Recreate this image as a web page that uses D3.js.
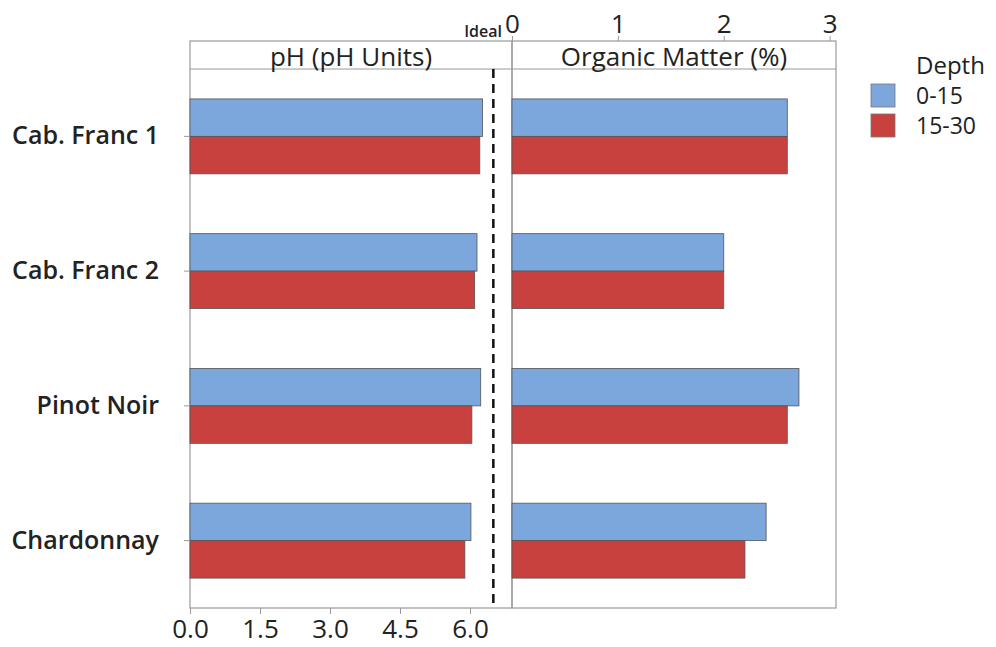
<!DOCTYPE html>
<html>
<head>
<meta charset="utf-8">
<script src="https://cdn.jsdelivr.net/npm/d3@7"></script>
<style>
  body { margin: 0; background: #fff; }
  text { font-family: "Open Sans", "Noto Sans", sans-serif; fill: #222; }
</style>
</head>
<body>
<div id="chart"></div>
<script>
const categories = ["Cab. Franc 1", "Cab. Franc 2", "Pinot Noir", "Chardonnay"];
const depths = ["0-15", "15-30"];
const phShallow = [6.27, 6.15, 6.23, 6.02];
const phDeep = [6.21, 6.10, 6.04, 5.89];
const omShallow = [2.60, 2.00, 2.71, 2.40];
const omDeep = [2.60, 2.00, 2.60, 2.20];
const phTicks = [0, 1.5, 3, 4.5, 6];
const omTicks = [0, 1, 2, 3];
const idealPh = 6.5;

const colors = ["#7ba7dd", "#c8413f"];

const w = 996, h = 647;
const plotTop = 41, stripH = 28, plotBottom = 608;
const leftX0 = 190, leftX1 = 512, rightX1 = 836;

const svg = d3.select("#chart").append("svg")
  .attr("width", w)
  .attr("height", h)

const y = d3.scaleBand().domain(categories).range([plotTop + stripH, plotBottom]);
const yDepth = d3.scaleBand().domain(depths).range([y.bandwidth() * 0.222, y.bandwidth() * 0.778]);

const xPh = d3.scaleLinear().domain([0, 6.9]).range([leftX0, leftX1]);
const xOm = d3.scaleLinear().domain([0, 3.06]).range([leftX1, rightX1]);

// panels
const panels = [
  { x0: leftX0, x1: leftX1, title: "pH (pH Units)", scale: xPh, vals: [phShallow, phDeep] },
  { x0: leftX1, x1: rightX1, title: "Organic Matter (%)", scale: xOm, vals: [omShallow, omDeep] }
];

panels.forEach(p => {
  svg.append("rect")
    .attr("x", p.x0).attr("y", plotTop)
    .attr("width", p.x1 - p.x0).attr("height", plotBottom - plotTop)
    .attr("fill", "none").attr("stroke", "#9a9a9a").attr("stroke-width", 1.2)
  svg.append("line")
    .attr("x1", p.x0).attr("x2", p.x1)
    .attr("y1", plotTop + stripH).attr("y2", plotTop + stripH)
    .attr("stroke", "#9a9a9a").attr("stroke-width", 1.2)
  svg.append("text")
    .attr("x", (p.x0 + p.x1) / 2).attr("y", plotTop + stripH - 3)
    .attr("text-anchor", "middle")
    .attr("font-size", 26)
    .attr("fill", "#333")
    .text(p.title)

  depths.forEach((d, j) => {
    svg.append("g").selectAll("rect")
      .data(categories)
      .enter()
      .append("rect")
      .attr("x", p.scale(0))
      .attr("y", c => y(c) + yDepth(d))
      .attr("width", (c, i) => p.scale(p.vals[j][i]) - p.scale(0))
      .attr("height", yDepth.bandwidth())
      .attr("fill", colors[j])
      .attr("stroke", "#555")
      .attr("stroke-width", 0.8)
  })
})

// ideal line
svg.append("line")
  .attr("x1", xPh(idealPh)).attr("x2", xPh(idealPh))
  .attr("y1", plotTop + stripH).attr("y2", plotBottom)
  .attr("stroke", "#111").attr("stroke-width", 2.5)
  .attr("stroke-dasharray", "9,6")
svg.append("text")
  .attr("x", 502).attr("y", 37)
  .attr("text-anchor", "end")
  .attr("font-size", 16).attr("font-weight", 600)
  .text("Ideal")

// bottom axis (pH)
const axB = svg.append("g")
  .attr("transform", `translate(0,${plotBottom})`)
  .call(d3.axisBottom(xPh).tickValues(phTicks).tickFormat(d3.format(".1f")).tickSize(6))
axB.select(".domain").remove()
axB.selectAll("line").attr("stroke", "#9a9a9a")
axB.selectAll("text").attr("font-size", 26).attr("y", 30).attr("dy", 0).style("font-family", "'Open Sans', sans-serif").attr("fill", "#222")

// top axis (OM)
const axT = svg.append("g")
  .attr("transform", `translate(0,${plotTop})`)
  .call(d3.axisTop(xOm).tickValues(omTicks).tickFormat(d3.format("d")).tickSize(5))
axT.select(".domain").remove()
axT.selectAll("line").attr("stroke", "#9a9a9a")
axT.selectAll("text").attr("font-size", 26).attr("y", -8).attr("dy", 0).style("font-family", "'Open Sans', sans-serif").attr("fill", "#222")

// y axis
const axL = svg.append("g")
  .attr("transform", `translate(${leftX0},0)`)
  .call(d3.axisLeft(y).tickSize(6).tickPadding(25))
axL.select(".domain").remove()
axL.selectAll("line").attr("stroke", "#9a9a9a")
axL.selectAll("text").attr("font-size", 25).attr("font-weight", 600).style("font-family", "'Open Sans', sans-serif").attr("fill", "#222")

// legend
const lg = svg.append("g").attr("transform", "translate(871,0)")
lg.append("text").attr("x", 45).attr("y", 74).attr("font-size", 24).attr("fill", "#333").text("Depth")
depths.forEach((d, j) => {
  lg.append("rect")
    .attr("x", 0).attr("y", 84 + j * 30)
    .attr("width", 24).attr("height", 23)
    .attr("fill", colors[j]).attr("stroke", "#777").attr("stroke-width", 0.8)
  lg.append("text")
    .attr("x", 45).attr("y", 104 + j * 30)
    .attr("font-size", 23)
    .attr("fill", "#333")
    .text(d)
})
</script>
</body>
</html>
